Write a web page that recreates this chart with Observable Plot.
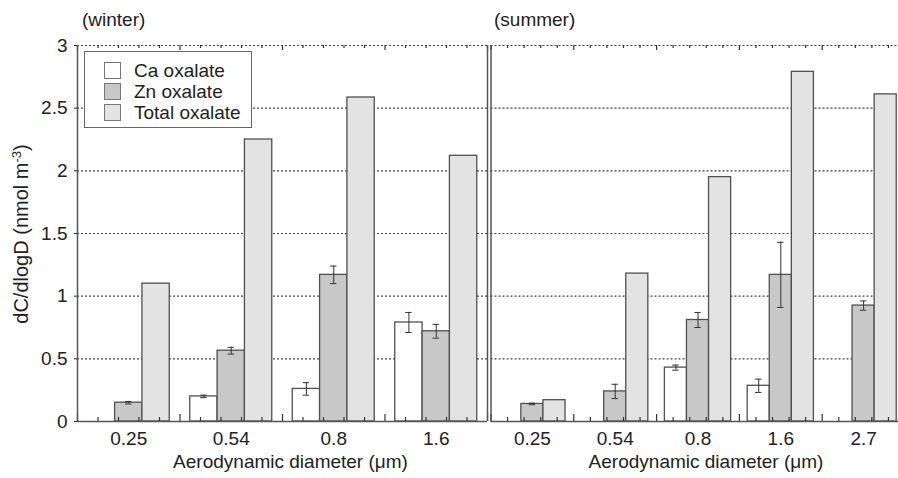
<!DOCTYPE html>
<html>
<head>
<meta charset="utf-8">
<script src="https://cdn.jsdelivr.net/npm/d3@7"></script>
<script src="https://cdn.jsdelivr.net/npm/@observablehq/plot@0.6"></script>
<style>
  html, body { margin: 0; padding: 0; background: #fff; overflow: hidden; }
  #root { position: relative; width: 898px; height: 478px; overflow: hidden; font-family: 'Liberation Sans', Arial, sans-serif; color: #222; }
  .pane { position: absolute; top: 0; height: 478px; overflow: hidden; }
  .pane svg { max-width: none !important; }
  .title { position: absolute; font-size: 19px; white-space: nowrap; line-height: 1; }
  #ylab { position: absolute; left: 21px; top: 234px; transform: translate(-50%, -50%) rotate(-90deg); white-space: nowrap; font-size: 20px; line-height: 22px; }
  #ylab .sup { font-size: 13px; vertical-align: 7px; line-height: 0; }
  #legend { position: absolute; left: 84px; top: 51px; width: 166px; height: 75px; border: 1.5px solid #666; background: #fff; }
  #legend .row { position: absolute; left: 0; height: 21px; font-size: 19px; line-height: 21px; white-space: nowrap; }
  #legend .sw { position: absolute; left: 19px; top: 2px; width: 15px; height: 15px; border: 1px solid #777; }
  #legend .lab { position: absolute; left: 49px; top: 0; }
</style>
</head>
<body>
<div id="root">
  <div class="pane" id="winter" style="left:0; width:489px;"></div>
  <div class="pane" id="summer" style="left:489px; width:409px;"></div>
  <div class="title" style="left:82px; top:10px;">(winter)</div>
  <div class="title" style="left:494px; top:10px;">(summer)</div>
  <div id="ylab">dC/dlogD (nmol m<span class="sup">-3</span>)</div>
  <div id="legend"></div>
</div>
<script>
// ---- data ----
const seriesNames = ["Ca oxalate", "Zn oxalate", "Total oxalate"];
const seriesColors = ["#ffffff", "#c8c8c8", "#e3e3e3"];
const yTicks = [0, 0.5, 1, 1.5, 2, 2.5, 3];
const gridValues = [0.5, 1, 1.5, 2, 2.5, 3];
const xLabel = "Aerodynamic diameter (\u03bcm)";

const winterSizes = ["0.25", "0.54", "0.8", "1.6"];
const winterCa = [null, 0.20, 0.26, 0.79];
const winterCaErr = [null, 0.01, 0.05, 0.08];
const winterZn = [0.15, 0.565, 1.17, 0.72];
const winterZnErr = [0.01, 0.027, 0.07, 0.055];
const winterTotal = [1.10, 2.25, 2.585, 2.12];

const summerSizes = ["0.25", "0.54", "0.8", "1.6", "2.7"];
const summerCa = [null, null, 0.43, 0.285, null];
const summerCaErr = [null, null, 0.02, 0.053, null];
const summerZn = [0.14, 0.24, 0.81, 1.17, 0.925];
const summerZnErr = [0.006, 0.057, 0.06, 0.26, 0.037];
const summerTotal = [0.17, 1.18, 1.95, 2.79, 2.61];

// ---- layout ----
const H = 478, MT = 45, MB = 57;
const unitPx = (H - MT - MB) / 3;
const px = p => p / unitPx;

function panel({sizes, ca, caErr, zn, znErr, tot, width, marginLeft, marginRight, showY}) {
  const n = sizes.length;
  const groupPx = (width - marginLeft - marginRight) / n;
  const pad = 0.1, bw = 0.8 / 3;
  const rows = [];
  sizes.forEach((s, i) => {
    [[ca, caErr], [zn, znErr], [tot, null]].forEach(([v, e], j) => {
      if (v[i] != null) rows.push({gi: i, sj: j, series: seriesNames[j], value: v[i], err: e ? e[i] : null});
    });
  });
  const x1 = d => d.gi + pad + d.sj * bw;
  const xc = d => x1(d) + bw / 2;
  const errRows = rows.filter(d => d.err != null);
  const caps = errRows.flatMap(d => [{c: xc(d), y: d.value - d.err}, {c: xc(d), y: d.value + d.err}]);
  const cap = 3.2 / groupPx;
  const ticks = d3.range(0, n * 5 + 1).map(k => ({x: k / 5, major: k % 5 === 0}));

  return Plot.plot({
    width, height: H,
    marginLeft, marginRight, marginTop: MT, marginBottom: MB,
    style: {fontFamily: "'Liberation Sans', Arial, sans-serif", fontSize: "19px", color: "#222", background: "transparent", overflow: "visible"},
    x: {domain: [0, n], ticks: d3.range(n).map(i => i + 0.5), tickFormat: v => sizes[Math.floor(v)], tickSize: 0, tickPadding: 10, label: null},
    y: showY
      ? {domain: [0, 3], ticks: yTicks, tickFormat: d => String(d), tickSize: 3, tickPadding: 7, label: null}
      : {domain: [0, 3], axis: null},
    color: {domain: seriesNames, range: seriesColors},
    marks: [
      Plot.ruleY(gridValues, {stroke: "#444", strokeWidth: 1.1, strokeDasharray: "2,2"}),
      Plot.rect(rows, {x1: x1, x2: d => x1(d) + bw, y1: 0, y2: "value", fill: "series", stroke: "#505050", strokeWidth: 1.3}),
      Plot.ruleX(errRows, {x: xc, y1: d => d.value - d.err, y2: d => d.value + d.err, stroke: "#333", strokeWidth: 1}),
      Plot.ruleY(caps, {y: "y", x1: d => d.c - cap, x2: d => d.c + cap, stroke: "#333", strokeWidth: 1}),
      Plot.ruleX(ticks, {x: "x", y1: 0, y2: d => px(d.major ? 7 : 4), stroke: "#333", strokeWidth: 1.2}),
      Plot.ruleX(ticks, {x: "x", y1: 3, y2: d => 3 - px(d.major ? 5 : 3), stroke: "#333", strokeWidth: 1.2}),
      Plot.ruleX([0, n], {y1: 0, y2: 3, stroke: "#555", strokeWidth: 1.5}),
      Plot.ruleY([0], {stroke: "#555", strokeWidth: 1.5}),
      Plot.text([xLabel], {frameAnchor: "bottom", dx: 8, dy: 46, fontSize: 19, fill: "#222"})
    ]
  });
}

document.getElementById("winter").appendChild(panel({
  sizes: winterSizes, ca: winterCa, caErr: winterCaErr, zn: winterZn, znErr: winterZnErr, tot: winterTotal,
  width: 489, marginLeft: 77, marginRight: 2, showY: true
}));
document.getElementById("summer").appendChild(panel({
  sizes: summerSizes, ca: summerCa, caErr: summerCaErr, zn: summerZn, znErr: summerZnErr, tot: summerTotal,
  width: 420, marginLeft: 1.5, marginRight: 4.5, showY: false
}));

// legend
const legend = d3.select("#legend");
seriesNames.forEach((name, i) => {
  const row = legend.append("div").attr("class", "row").style("top", (8 + i * 21) + "px");
  row.append("div").attr("class", "sw").style("background", seriesColors[i]);
  row.append("div").attr("class", "lab").text(name);
});
</script>
</body>
</html>
